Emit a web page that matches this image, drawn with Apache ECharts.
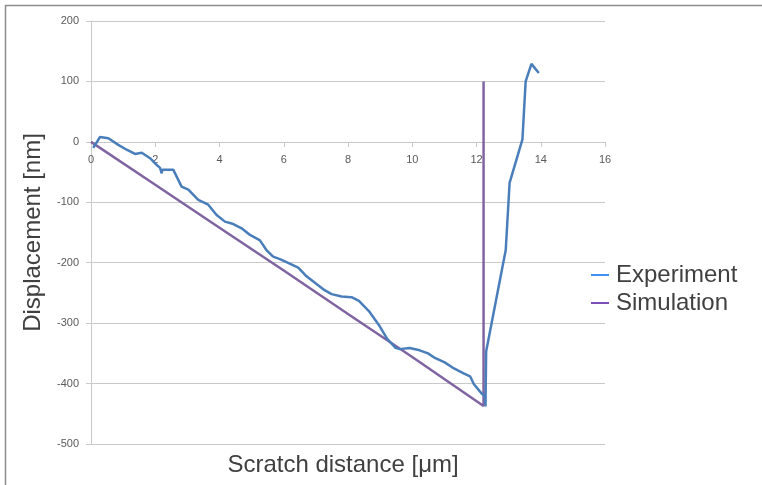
<!DOCTYPE html>
<html>
<head>
<meta charset="utf-8">
<script src="https://cdn.jsdelivr.net/npm/echarts@6/dist/echarts.min.js"></script>
<style>
html,body{margin:0;padding:0;background:#fff;}
#chart{width:762px;height:485px;}
</style>
</head>
<body>
<div id="chart"></div>
<script>
// scratch distance [um], displacement [nm]
var expX=[0.07,0.28,0.54,0.85,1.11,1.37,1.58,1.84,2.04,2.15,2.2,2.22,2.3,2.56,2.82,3.03,3.34,3.65,3.91,4.17,4.43,4.69,4.95,5.26,5.46,5.67,5.88,6.17,6.45,6.68,6.94,7.23,7.49,7.8,8.11,8.34,8.65,8.96,9.22,9.48,9.61,9.92,10.23,10.49,10.72,11.01,11.3,11.6,11.8,11.92,12.17,12.26,12.28,12.3,12.91,13.03,13.43,13.53,13.71,13.94];
var expY=[-10,8,6,-5,-13,-20,-18,-27,-38,-43,-52,-46,-46,-46,-74,-79,-96,-104,-121,-132,-136,-143,-154,-163,-179,-190,-194,-201,-208,-221,-232,-244,-252,-256,-257,-263,-280,-303,-326,-341,-343,-341,-345,-350,-358,-365,-375,-383,-388,-401,-417,-421,-438,-347,-179,-68,4,100,129,114];
var simX=[0,2,4,6,8,10,12.22,12.22];
var simY=[0,-71,-142,-213,-285,-356,-437,100];
var xTicks=[0,16,2];
var yTicks=[-500,200,100];

function pairs(xs,ys){
    var out=[];
    for(var i=0;i<xs.length;i++){out.push([xs[i],ys[i]]);}
    return out;
}

var font='Liberation Sans, Arial, sans-serif';
var gridColor='#c9c9c9';
var chart=echarts.init(document.getElementById('chart'));
chart.setOption({
    animation:false,
    backgroundColor:'#fff',
    textStyle:{fontFamily:font},
    grid:{left:91,right:157,top:21,bottom:41,containLabel:false},
    legend:{
        orient:'vertical',
        left:586,
        top:258,
        itemWidth:18,
        itemHeight:2,
        itemGap:4,
        icon:'rect',
        textStyle:{fontSize:24,color:'#404040',padding:[0,0,0,2]},
        data:[
            {name:'Experiment',itemStyle:{color:'#3d8ff0'}},
            {name:'Simulation',itemStyle:{color:'#7a4db8'}}
        ]
    },
    xAxis:{
        type:'value',
        min:xTicks[0],max:xTicks[1],interval:xTicks[2],
        offset:-302,
        axisLine:{onZero:false,lineStyle:{color:gridColor,width:1}},
        axisTick:{show:true,length:5,lineStyle:{color:gridColor}},
        axisLabel:{fontSize:11,color:'#595959',margin:12},
        splitLine:{show:false}
    },
    yAxis:{
        type:'value',
        min:yTicks[0],max:yTicks[1],interval:yTicks[2],
        name:'Displacement [nm]',
        nameLocation:'middle',
        nameGap:46,
        nameRotate:90,
        nameTextStyle:{fontSize:24,color:'#404040'},
        axisLine:{show:true,onZero:false,lineStyle:{color:gridColor,width:1}},
        axisTick:{show:true,length:5,lineStyle:{color:gridColor}},
        axisLabel:{fontSize:11,color:'#595959',margin:12},
        splitLine:{show:true,lineStyle:{color:gridColor,width:1}}
    },
    series:[
        {
            name:'Experiment',
            type:'line',
            data:pairs(expX,expY),
            showSymbol:false,
            symbol:'none',
            z:3,
            lineStyle:{color:'#4a7ebb',width:2.5},
            itemStyle:{color:'#4a7ebb'}
        },
        {
            name:'Simulation',
            type:'line',
            data:pairs(simX,simY),
            showSymbol:false,
            symbol:'none',
            z:2,
            lineStyle:{color:'#8064a2',width:2.5},
            itemStyle:{color:'#8064a2'}
        }
    ],
    graphic:[
        {type:'line',shape:{x1:5,y1:5.5,x2:762,y2:5.5},style:{stroke:'#8c8c8c',lineWidth:1.5}},
        {type:'line',shape:{x1:5.5,y1:5,x2:5.5,y2:485},style:{stroke:'#8c8c8c',lineWidth:1.5}},
        // x axis title sits at the bottom of the chart, not at the zero line
        {type:'text',x:343,y:465,style:{text:'Scratch distance [μm]',font:'24px '+font,fill:'#404040',textAlign:'center',textVerticalAlign:'middle'}}
    ]
});
</script>
</body>
</html>
